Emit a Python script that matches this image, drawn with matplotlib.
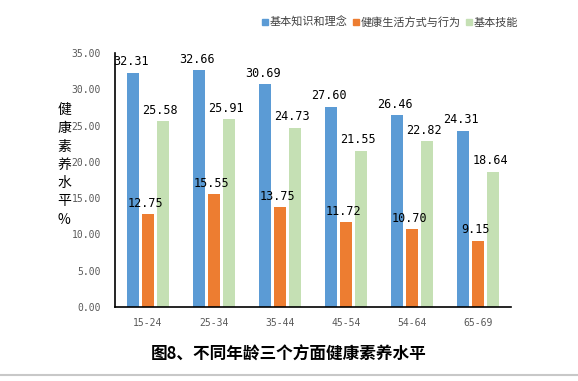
import matplotlib.pyplot as plt
from matplotlib.lines import Line2D
import numpy as np

plt.rcParams['font.family'] = ['Noto Sans CJK SC', 'DejaVu Sans']

ages = ['15-24', '25-34', '35-44', '45-54', '54-64', '65-69']
zhishi = [32.31, 32.66, 30.69, 27.60, 26.46, 24.31]   # 基本知识和理念
xingwei = [12.75, 15.55, 13.75, 11.72, 10.70, 9.15]   # 健康生活方式与行为
jineng = [25.58, 25.91, 24.73, 21.55, 22.82, 18.64]   # 基本技能
names = ['基本知识和理念', '健康生活方式与行为', '基本技能']
colors = ['#5B9BD5', '#ED7D31', '#C5E0B4']

fig = plt.figure(figsize=(5.78, 3.81), dpi=100)
ax = fig.add_axes([115/578, 1 - 307/381, 396/578, 254/381])

x = np.arange(len(ages))
w = 0.177
step = 0.224
num_font = dict(family='DejaVu Sans Mono', fontsize=8.5, color='black')

for i, (vals, c) in enumerate(zip([zhishi, xingwei, jineng], colors)):
    pos = x + (i - 1) * step
    ax.bar(pos, vals, width=w, color=c, label=names[i])
    for px, v in zip(pos, vals):
        ax.text(px - 0.04, v + 0.6, '%.2f' % v, ha='center', va='bottom', **num_font)

ax.set_xlim(-0.5, len(ages) - 0.5)
ax.set_ylim(0, 35)
ax.set_yticks(np.arange(0, 36, 5))
ax.set_yticklabels(['%.2f' % t for t in np.arange(0, 36, 5)],
                   family='DejaVu Sans Mono', fontsize=7, color='#595959')
ax.set_xticks(x)
ax.set_xticklabels(ages, family='DejaVu Sans Mono', fontsize=7, color='#595959')
ax.tick_params(length=0)
ax.tick_params(axis='x', pad=8)
ax.tick_params(axis='y', pad=10)
for s in ['top', 'right']:
    ax.spines[s].set_visible(False)
for s in ['left', 'bottom']:
    ax.spines[s].set_color('black')
    ax.spines[s].set_linewidth(1.2)

# 纵轴标题，竖排
ylab = '健康素养水平%'
for k, ch in enumerate(ylab):
    fig.text(64/578, 1 - (110 + k * 18.3)/381, ch, ha='center', va='center', fontsize=10)

handles = [Line2D([0], [0], marker='s', linestyle='none', markersize=4.5,
                  markerfacecolor=c, markeredgecolor=c) for c in colors]
fig.legend(handles, names, loc='center right', bbox_to_anchor=(518/578, 1 - 22/381),
           ncol=3, frameon=False, fontsize=8, handlelength=0.6, handletextpad=0.15,
           columnspacing=0.4, labelcolor='#404040', borderaxespad=0, borderpad=0)

fig.text(0.5, 1 - 355/381, '图8、不同年龄三个方面健康素养水平', ha='center', va='center',
         fontsize=12, fontweight='bold')
fig.add_artist(Line2D([0, 1], [1 - 375/381, 1 - 375/381], color='#C8C8C8', lw=1.5))

plt.savefig('out.png', dpi=100)
